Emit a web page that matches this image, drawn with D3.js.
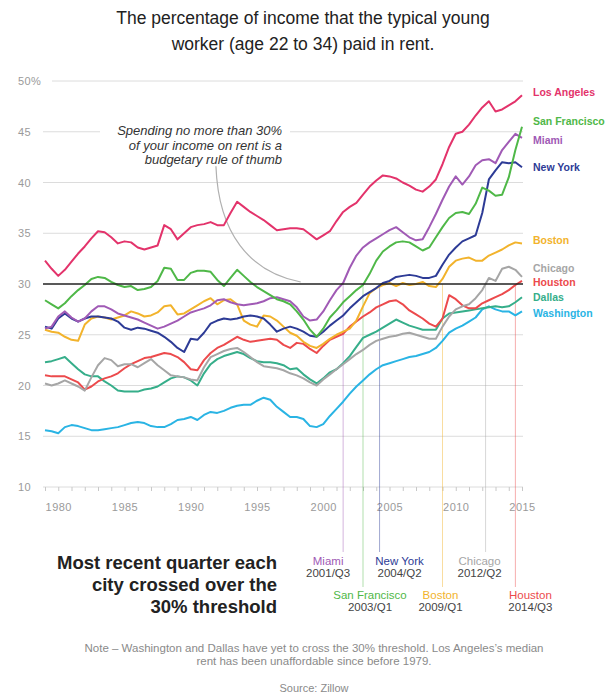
<!DOCTYPE html>
<html lang="en">
<head>
  <meta charset="UTF-8">
  <title>Share of income young workers paid in rent</title>
  <style>
    body {
      margin: 0;
      background: #fff;
      font-family: "Liberation Sans", Arial, sans-serif;
    }
    svg {
      display: block;
    }
  </style>
  <script src="https://d3js.org/d3.v7.min.js"></script>
</head>
<body>

<svg width="606" height="698"></svg>

<script>
  // half-year samples, 1979 to 2015
  const years = [
    1979, 1979.5, 1980, 1980.5, 1981, 1981.5, 1982, 1982.5, 1983, 1983.5,
    1984, 1984.5, 1985, 1985.5, 1986, 1986.5, 1987, 1987.5, 1988, 1988.5,
    1989, 1989.5, 1990, 1990.5, 1991, 1991.5, 1992, 1992.5, 1993, 1993.5,
    1994, 1994.5, 1995, 1995.5, 1996, 1996.5, 1997, 1997.5, 1998, 1998.5,
    1999, 1999.5, 2000, 2000.5, 2001, 2001.5, 2002, 2002.5, 2003, 2003.5,
    2004, 2004.5, 2005, 2005.5, 2006, 2006.5, 2007, 2007.5, 2008, 2008.5,
    2009, 2009.5, 2010, 2010.5, 2011, 2011.5, 2012, 2012.5, 2013, 2013.5,
    2014, 2014.5, 2015
  ];

  const losAngeles = [
    32.3, 31.5, 30.8, 31.4, 32.2, 33.0, 33.7, 34.5, 35.2, 35.1,
    34.6, 34.0, 34.2, 34.1, 33.6, 33.4, 33.6, 33.8, 35.8, 35.4,
    34.4, 35.0, 35.6, 35.8, 35.9, 36.1, 35.8, 35.8, 37.0, 38.1,
    37.6, 37.1, 36.7, 36.3, 35.8, 35.3, 35.4, 35.5, 35.5, 35.4,
    34.9, 34.4, 34.8, 35.2, 36.2, 37.1, 37.6, 38.0, 38.8, 39.6,
    40.2, 40.7, 40.6, 40.4, 40.0, 39.7, 39.3, 39.1, 39.6, 40.3,
    41.8, 43.5, 44.8, 45.0, 45.7, 46.6, 47.4, 48.0, 47.0, 47.2,
    47.6, 48.0, 48.6
  ];
  const sanFrancisco = [
    28.4, 28.0, 27.6, 28.1, 28.8, 29.4, 29.9, 30.5, 30.7, 30.6,
    30.2, 29.9, 29.7, 29.8, 29.4, 29.5, 29.7, 30.3, 31.6, 31.5,
    30.4, 30.4, 31.1, 31.3, 31.3, 31.2, 30.4, 29.8, 30.6, 31.4,
    30.8, 30.2, 29.7, 29.3, 28.9, 28.5, 28.3, 28.0, 27.3, 26.5,
    25.5, 24.8, 25.6, 26.7, 27.4, 28.2, 28.8, 29.4, 29.9, 31.0,
    32.3, 33.2, 33.7, 34.1, 34.2, 34.1, 33.7, 33.3, 33.6, 34.6,
    35.6, 36.5, 37.0, 37.1, 36.9, 37.9, 39.5, 39.2, 38.7, 38.8,
    40.5, 43.2, 45.5
  ];
  const miami = [
    25.6, 25.8, 26.8, 27.3, 26.7, 26.3, 26.6, 27.3, 27.8, 27.8,
    27.5, 27.1, 26.9, 26.7, 26.5, 26.2, 25.9, 25.6, 25.8, 26.1,
    26.4, 26.8, 27.2, 27.4, 27.6, 27.9, 28.4, 28.5, 28.2, 28.0,
    27.9, 28.0, 28.1, 28.3, 28.6, 28.7, 28.5, 28.3, 27.7, 26.8,
    26.4, 26.5, 27.3, 28.4, 29.4, 30.1, 31.6, 32.8, 33.6, 34.1,
    34.5, 34.9, 35.3, 35.6, 35.1, 34.6, 34.3, 34.4, 35.6, 36.9,
    38.3, 39.6, 40.6, 39.8, 40.6, 41.7, 42.2, 42.3, 41.9, 43.2,
    44.0, 44.8, 44.4
  ];
  const newYork = [
    25.8, 25.6, 26.6, 27.1, 26.6, 26.3, 26.6, 26.8, 26.8, 26.7,
    26.6, 26.3, 25.7, 25.5, 25.7, 25.6, 25.4, 25.2, 24.8, 24.3,
    23.7, 23.3, 24.6, 24.5, 25.2, 26.1, 26.4, 26.6, 26.5, 26.6,
    26.8, 26.9, 26.8, 26.6, 26.0, 25.3, 25.6, 25.8, 25.6, 25.3,
    24.9, 24.8, 25.3, 25.9, 26.4, 26.9, 27.6, 28.2, 28.8, 29.2,
    29.6, 30.1, 30.3, 30.7, 30.8, 30.9, 30.8, 30.6, 30.6, 30.8,
    31.9, 32.9, 33.6, 34.2, 34.5, 34.8, 37.0, 40.3, 41.2, 42.0,
    41.9, 42.0, 41.5
  ];
  const boston = [
    25.5, 25.3, 25.2, 24.8, 24.5, 24.4, 26.0, 26.6, 26.8, 26.7,
    26.5, 26.7, 26.9, 27.3, 27.1, 26.8, 26.9, 27.2, 27.8, 27.9,
    27.0, 27.1, 27.5, 27.9, 28.3, 28.6, 28.0, 28.4, 28.5, 28.0,
    26.4, 26.0, 25.8, 26.9, 26.8, 26.4, 25.8, 25.2, 24.9, 24.3,
    23.9, 23.7, 24.1, 24.6, 25.0, 25.3, 25.6, 26.4, 27.8, 29.1,
    29.6, 29.9, 30.1, 29.8, 30.1, 29.9, 30.0, 30.2, 29.8, 29.7,
    30.5, 31.7, 32.3, 32.5, 32.6, 32.3, 32.3, 32.8, 33.1, 33.4,
    33.8, 34.1, 34.0
  ];
  const chicago = [
    20.2, 20.0, 20.2, 20.5, 20.2, 19.9, 19.5, 20.8, 22.0, 22.7,
    22.5, 21.9, 22.1, 22.1, 21.8, 22.2, 22.6, 22.0, 21.5, 21.0,
    20.9, 20.8, 20.6, 20.5, 21.8, 22.8, 23.1, 23.4, 23.6, 23.7,
    23.3, 22.8, 22.3, 21.9, 21.8, 21.7, 21.5, 21.2, 21.0, 20.7,
    20.3, 20.0, 20.6, 21.1, 21.6, 22.1, 22.6, 23.1, 23.5, 24.0,
    24.4, 24.6, 24.8, 24.9, 25.1, 25.2, 25.0, 24.8, 24.6, 24.6,
    25.8, 26.8, 27.5, 27.8, 28.0, 28.6, 29.4, 30.6, 30.3, 31.5,
    31.7, 31.4, 30.7
  ];
  const houston = [
    21.0, 20.9, 20.9, 20.9, 20.6, 20.3, 19.6, 19.9, 20.4, 20.7,
    20.9, 21.2, 21.7, 22.1, 22.4, 22.7, 22.8, 23.0, 23.2, 23.1,
    22.8, 22.3, 21.6, 21.5, 22.5, 23.2, 23.7, 24.0, 24.4, 24.8,
    24.5, 24.3, 24.4, 24.5, 24.6, 24.5, 24.0, 23.7, 24.2, 24.1,
    23.6, 23.2, 23.9, 24.5, 24.8, 25.1, 25.8, 26.3, 26.8, 27.2,
    27.7, 28.0, 28.3, 28.4, 28.0, 27.4, 27.0, 26.6, 26.1, 25.8,
    26.6, 28.9, 28.5, 27.9, 27.6, 27.6, 28.1, 28.4, 28.7, 29.0,
    29.4, 29.9, 30.3
  ];
  const dallas = [
    22.3, 22.4, 22.6, 22.8, 22.2, 21.6, 21.1, 20.9, 20.9, 20.4,
    20.0, 19.5, 19.4, 19.4, 19.4, 19.6, 19.7, 19.9, 20.3, 20.7,
    20.9, 20.8, 20.5, 20.0, 21.2, 22.1, 22.6, 22.9, 23.1, 23.3,
    23.1, 22.7, 22.4, 22.3, 22.3, 22.2, 22.0, 21.6, 21.7, 21.1,
    20.6, 20.2, 20.7, 21.3, 21.6, 22.2, 22.9, 23.8, 24.7, 25.0,
    25.3, 25.7, 26.1, 26.5, 26.2, 25.9, 25.7, 25.5, 25.5, 25.5,
    26.6, 27.1, 27.2, 27.3, 27.4, 27.5, 27.6, 27.7, 27.8, 27.7,
    27.8, 28.2, 28.7
  ];
  const washington = [
    15.6, 15.5, 15.3, 15.9, 16.1, 16.0, 15.8, 15.6, 15.6, 15.7,
    15.8, 15.9, 16.1, 16.3, 16.4, 16.3, 16.0, 15.9, 15.9, 16.2,
    16.6, 16.7, 16.9, 16.6, 17.1, 17.4, 17.3, 17.5, 17.8, 18.0,
    18.1, 18.1, 18.5, 18.8, 18.6, 17.9, 17.4, 16.9, 16.9, 16.7,
    16.0, 15.9, 16.2, 17.0, 17.7, 18.4, 19.2, 19.9, 20.5, 21.1,
    21.6, 22.0, 22.2, 22.4, 22.6, 22.8, 22.9, 23.1, 23.3, 23.7,
    24.4, 25.2, 25.6, 25.9, 26.3, 26.7, 27.5, 27.8, 27.5, 27.3,
    27.3, 26.9, 27.3
  ];

  const cities = ["Los Angeles", "San Francisco", "Miami", "New York", "Boston",
                  "Chicago", "Houston", "Dallas", "Washington"];
  const cityValues = [losAngeles, sanFrancisco, miami, newYork, boston,
                      chicago, houston, dallas, washington];

  const yTicks = [10, 15, 20, 25, 30, 35, 40, 45, 50];
  const xTickYears = [1980, 1985, 1990, 1995, 2000, 2005, 2010, 2015];
  const threshold = 30;

  // last quarter each city crossed the threshold
  const crossCities = ["Miami", "San Francisco", "New York", "Boston", "Chicago", "Houston"];
  const crossQuarters = ["2001/Q3", "2003/Q1", "2004/Q2", "2009/Q1", "2012/Q2", "2014/Q3"];
  const crossYears = [2001.5, 2003.0, 2004.25, 2009.0, 2012.25, 2014.5];

  const titleLines = ["The percentage of income that the typical young",
                      "worker (age 22 to 34) paid in rent."];
  const noteLines = ["Note \u2013 Washington and Dallas have yet to cross the 30% threshold. Los Angeles\u2019s median",
                     "rent has been unaffordable since before 1979."];

  // ---- styles / layout ----
  const colors = {
    "Los Angeles": "#e3336b",
    "San Francisco": "#4fb848",
    "Miami": "#a05ab5",
    "New York": "#2d3b96",
    "Boston": "#f2b32c",
    "Chicago": "#a6a6a6",
    "Houston": "#ec4a4c",
    "Dallas": "#36ae8a",
    "Washington": "#2ab4e4"
  };
  // where each end label sits, in % units
  const endLabelAt = {
    "Los Angeles": 48.9, "San Francisco": 46.0, "Miami": 44.2, "New York": 41.5,
    "Boston": 34.3, "Chicago": 31.5, "Houston": 30.2, "Dallas": 28.7, "Washington": 27.1
  };
  // crossing labels: row and horizontal nudge from the marker line
  const crossLayout = {
    "Miami": [0, -15], "New York": [0, 20], "Chicago": [0, -6],
    "San Francisco": [1, 7], "Boston": [1, -2], "Houston": [1, 15]
  };

  const svg = d3.select("svg");

  const x = d3.scaleLinear().domain([1979, 2015]).range([45, 522]);
  const y = d3.scaleLinear().domain([10, 50]).range([487, 81]);

  // title
  svg.append("g")
    .selectAll("text")
    .data(titleLines)
    .enter().append("text")
      .attr("x", 303)
      .attr("y", (d, i) => 24 + i * 26)
      .attr("text-anchor", "middle")
      .attr("font-size", 17.5)
      .attr("fill", "#222")
      .text(d => d);

  // gridlines
  svg.append("g")
    .selectAll("line")
    .data(yTicks.filter(d => d !== threshold))
    .enter().append("line")
      .attr("x1", d => d === 50 ? 52 : 43)
      .attr("x2", 523)
      .attr("y1", d => y(d))
      .attr("y2", d => y(d))
      .attr("stroke", "#dcdcdc")
      .attr("stroke-width", 1);

  svg.append("g")
    .selectAll("text")
    .data(yTicks)
    .enter().append("text")
      .attr("x", 18)
      .attr("y", d => y(d) + 4)
      .attr("font-size", 11)
      .attr("letter-spacing", 0.4)
      .attr("fill", "#9a9a9a")
      .text(d => d === 50 ? "50%" : d);

  // x axis: yearly ticks + 5-year labels
  const minorAxis = svg.append("g")
    .attr("transform", `translate(0,${y(10)})`)
    .call(d3.axisBottom(x).tickValues(d3.range(1979, 2016)).tickSize(4).tickFormat(""));
  minorAxis.select(".domain").remove();
  minorAxis.selectAll("line").attr("stroke", "#c8c8c8");

  const labelAxis = svg.append("g")
    .attr("transform", `translate(0,${y(10)})`)
    .call(d3.axisBottom(x).tickValues(xTickYears).tickSize(0).tickPadding(16).tickFormat(d3.format("d")));
  labelAxis.select(".domain").remove();
  labelAxis.selectAll("text")
    .attr("font-family", "Liberation Sans, Arial, sans-serif")
    .attr("font-size", 11)
    .attr("letter-spacing", 0.5)
    .attr("fill", "#9a9a9a");

  // annotation about the rule of thumb
  svg.append("rect")
    .attr("x", 100).attr("y", 121)
    .attr("width", 190).attr("height", 47)
    .attr("fill", "#fff");

  svg.append("g")
    .selectAll("text")
    .data(["Spending no more than 30%", "of your income on rent is a", "budgetary rule of thumb"])
    .enter().append("text")
      .attr("x", 282)
      .attr("y", (d, i) => 135 + i * 14.5)
      .attr("text-anchor", "end")
      .attr("font-size", 13)
      .attr("font-style", "italic")
      .attr("fill", "#333")
      .text(d => d);

  svg.append("path")
    .attr("d", `M${x(1991.9)},${y(41.6)} C${x(1992.1)},${y(35)} ${x(1994.4)},${y(31.2)} ${x(1998.3)},${y(30.2)}`)
    .attr("fill", "none")
    .attr("stroke", "#b0b0b0")
    .attr("stroke-width", 1.2);

  // crossing marker lines (under the series)
  const crossG = svg.append("g");
  crossCities.forEach((c, i) => {
    const [row] = crossLayout[c];
    crossG.append("line")
      .attr("x1", x(crossYears[i]))
      .attr("x2", x(crossYears[i]))
      .attr("y1", y(threshold))
      .attr("y2", row === 0 ? 552 : 587)
      .attr("stroke", colors[c])
      .attr("stroke-opacity", 0.45)
      .attr("stroke-width", 1);
  });

  // series
  const line = d3.line()
    .x((d, i) => x(years[i]))
    .y(d => y(d));

  const drawOrder = ["Washington", "Dallas", "Houston", "Chicago", "Boston",
                     "New York", "Miami", "San Francisco", "Los Angeles"];

  svg.append("g")
    .selectAll("path")
    .data(drawOrder)
    .enter().append("path")
      .attr("d", c => line(cityValues[cities.indexOf(c)]))
      .attr("fill", "none")
      .attr("stroke", c => colors[c])
      .attr("stroke-width", 2)
      .attr("stroke-linejoin", "round");

  // 30% threshold
  svg.append("line")
    .attr("x1", 43).attr("x2", 523)
    .attr("y1", y(threshold)).attr("y2", y(threshold))
    .attr("stroke", "#222")
    .attr("stroke-width", 1.5);

  // end labels
  svg.append("g")
    .selectAll("text")
    .data(cities)
    .enter().append("text")
      .attr("x", 533)
      .attr("y", c => y(endLabelAt[c]))
      .attr("dy", "0.35em")
      .attr("font-size", 10.5)
      .attr("font-weight", "bold")
      .attr("fill", c => colors[c])
      .text(c => c);

  // bottom block
  svg.append("g")
    .selectAll("text")
    .data(["Most recent quarter each", "city crossed over the", "30% threshold"])
    .enter().append("text")
      .attr("x", 277)
      .attr("y", (d, i) => 569 + i * 22)
      .attr("text-anchor", "end")
      .attr("font-size", 18.5)
      .attr("font-weight", "bold")
      .attr("fill", "#222")
      .text(d => d);

  crossCities.forEach((c, i) => {
    const [row, dx] = crossLayout[c];
    const cx = x(crossYears[i]) + dx;
    const base = row === 0 ? 565 : 599;
    svg.append("text")
      .attr("x", cx).attr("y", base)
      .attr("text-anchor", "middle")
      .attr("font-size", 11.5)
      .attr("fill", colors[c])
      .text(c);
    svg.append("text")
      .attr("x", cx).attr("y", base + 11.5)
      .attr("text-anchor", "middle")
      .attr("font-size", 11.5)
      .attr("fill", "#444")
      .text(crossQuarters[i]);
  });

  // note + source
  svg.append("g")
    .selectAll("text")
    .data(noteLines)
    .enter().append("text")
      .attr("x", 314)
      .attr("y", (d, i) => 652 + i * 13)
      .attr("text-anchor", "middle")
      .attr("font-size", 11.5)
      .attr("fill", "#8a8a8a")
      .text(d => d);

  svg.append("text")
    .attr("x", 314).attr("y", 692)
    .attr("text-anchor", "middle")
    .attr("font-size", 11)
    .attr("fill", "#8a8a8a")
    .text("Source: Zillow");
</script>

</body>
</html>
